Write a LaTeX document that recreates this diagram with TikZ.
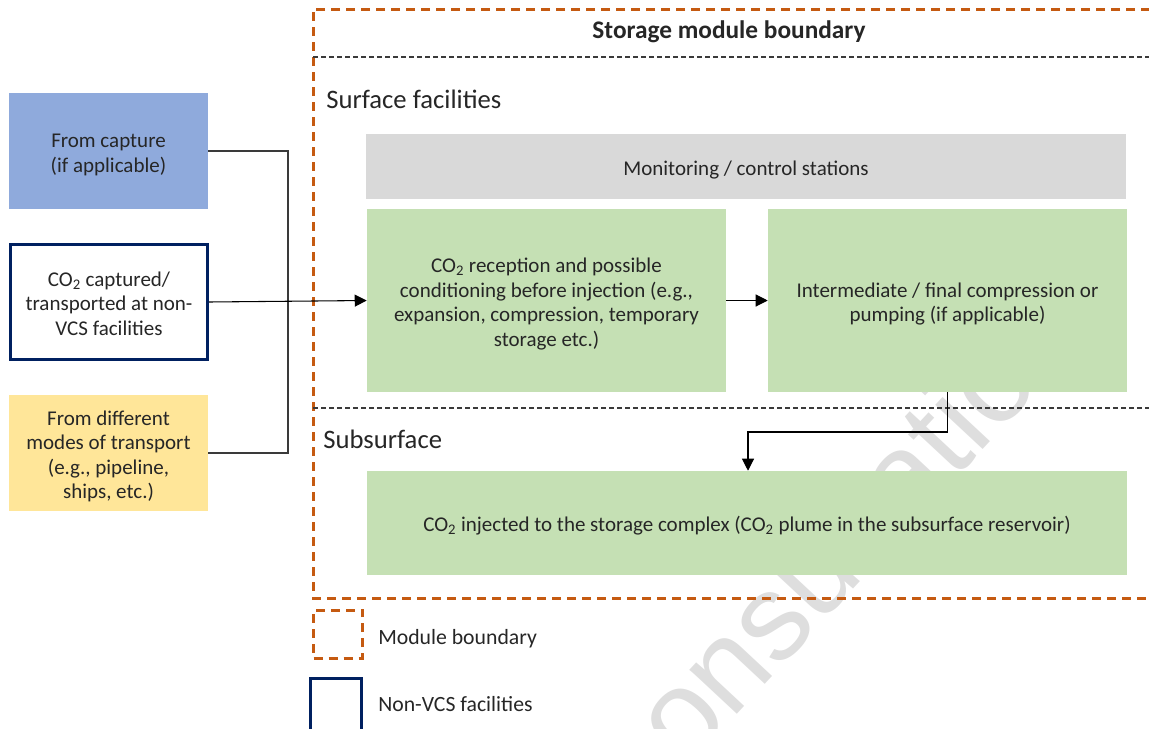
\documentclass[tikz,border=0pt]{standalone}
\usepackage{fontspec}
\setmainfont{Carlito}
\newfontfamily\wmfont{Liberation Sans}
\usetikzlibrary{arrows.meta}
\definecolor{capblue}{HTML}{8FAADC}
\definecolor{navyedge}{HTML}{002060}
\definecolor{transyellow}{HTML}{FFE699}
\definecolor{mongray}{HTML}{D9D9D9}
\definecolor{facgreen}{HTML}{C5E0B4}
\definecolor{bndorange}{HTML}{C55A11}
\definecolor{txtdark}{HTML}{262626}
\definecolor{linegray}{HTML}{3A3A3A}
\definecolor{wmgray}{HTML}{DEDEDE}
\newcommand{\mtxt}[1]{\raisebox{-3pt}[\height][\depth]{\begin{tabular}{@{}c@{}}#1\end{tabular}}}
\begin{document}
\begin{tikzpicture}[x=0.75pt,y=-0.75pt,
  box/.style={draw=none,inner sep=0pt,text=txtdark,
    font=\fontsize{15.75}{18.4}\selectfont},
  label/.style={inner sep=0pt,anchor=west,text=txtdark},
  arr/.style={draw=black,line width=0.8pt,-{Triangle[length=9pt,width=9pt]}},
  conn/.style={draw=linegray,line width=0.8pt},
  orangedash/.style={draw=bndorange,line width=2.25pt,dash pattern=on 6.75pt off 4.5pt},
  thindash/.style={draw=linegray,line width=0.85pt,dash pattern=on 3.75pt off 2.25pt}]
\useasboundingbox (0,0) rectangle (1149,728);
\clip (0,0) rectangle (1149,728);
% watermark
\node[rotate=47,anchor=base west,text=wmgray,inner sep=0pt,
  font=\wmfont\fontsize{92}{92}\selectfont] (wm) at (643,815) {consultation};
% boundary
\draw[orangedash] (1165,9) -- (313,9) -- (313,598) -- (1165,598);
\draw[thindash] (313,57) -- (1165,57);
\draw[thindash] (313,408) -- (1165,408);
\node[inner sep=0pt,text=txtdark,font=\bfseries\fontsize{19}{21}\selectfont] (title) at (729,32) {Storage module boundary};
\node[label,font=\fontsize{20}{22}\selectfont] (surf) at (326,99) {Surface facilities};
\node[label,font=\fontsize{20}{22}\selectfont] (subs) at (323,439) {Subsurface};
% left boxes
\node[box,fill=capblue,minimum width=149.25pt,minimum height=87pt] (cap) at (108.5,151) {\mtxt{From capture\\(if applicable)}};
\node[box,draw=navyedge,line width=2.25pt,fill=white,minimum width=147.75pt,minimum height=86.25pt] (nonvcs) at (109,302) {\mtxt{CO\textsubscript{2} captured/\\transported at non-\\VCS facilities}};
\node[box,fill=transyellow,minimum width=149.25pt,minimum height=87pt] (trans) at (108.5,453) {\mtxt{From different\\modes of transport\\(e.g., pipeline,\\ships, etc.)}};
% surface boxes
\node[box,fill=mongray,minimum width=570pt,minimum height=48.75pt] (mon) at (746,166.5) {\mtxt{Monitoring / control stations}};
\node[box,fill=facgreen,minimum width=269.25pt,minimum height=137.25pt] (recv) at (546.5,300.5) {\mtxt{CO\textsubscript{2} reception and possible\\conditioning before injection (e.g.,\\expansion, compression, temporary\\storage etc.)}};
\node[box,fill=facgreen,minimum width=269.25pt,minimum height=137.25pt] (comp) at (947.5,300.5) {\mtxt{Intermediate / final compression or\\pumping (if applicable)}};
\node[box,fill=facgreen,minimum width=570pt,minimum height=78pt] (inj) at (747,523) {\mtxt{CO\textsubscript{2} injected to the storage complex (CO\textsubscript{2} plume in the subsurface reservoir)}};
% connectors
\coordinate (junc) at (288,302);
\coordinate (bend) at (748,432);
\draw[conn] (cap.east) -| (junc) |- (trans.east);
\draw[arr] (nonvcs.east) -- (recv.west);
\draw[arr] (recv.east) -- (comp.west);
\draw[arr] (comp.south) |- (bend) -- (bend |- inj.north);
% legend
\node[draw=bndorange,line width=2.25pt,dash pattern=on 6.75pt off 4.5pt,inner sep=0pt,minimum width=36.75pt,minimum height=36pt] (legb) at (338,634) {};
\node[label,font=\fontsize{16.3}{18}\selectfont] (legbt) at (378,639) {Module boundary};
\node[draw=navyedge,line width=2.25pt,inner sep=0pt,minimum width=38.25pt,minimum height=39.75pt] (legn) at (336,705) {};
\node[label,font=\fontsize{16.3}{18}\selectfont] (legnt) at (378,704) {Non-VCS facilities};
\end{tikzpicture}
\end{document}
